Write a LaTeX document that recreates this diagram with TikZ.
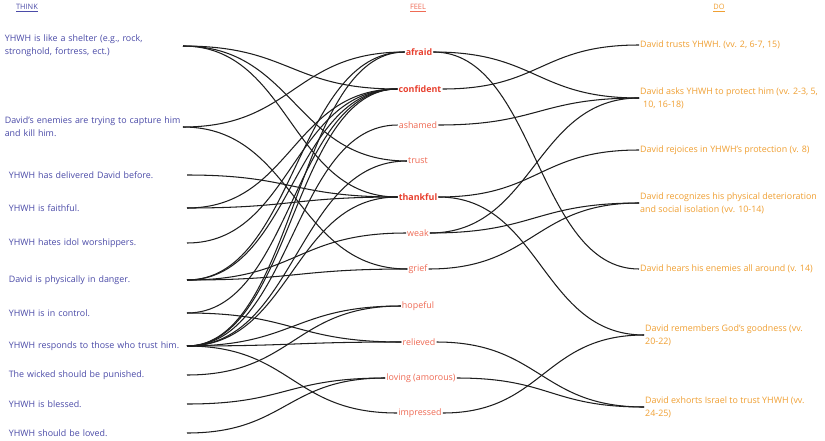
\documentclass[tikz,border=0pt]{standalone}
\usepackage{fontspec}
\setmainfont{Open Sans}
\usetikzlibrary{calc}
\definecolor{thinkc}{HTML}{4B4BA8}
\definecolor{feelb}{HTML}{E8402F}
\definecolor{feeln}{HTML}{EF6B55}
\definecolor{doc}{HTML}{F0A033}
\definecolor{linec}{HTML}{1E1E1E}
\newcommand\fconn[2]{\draw[cline] let \p1=(#1.east), \p2=(#2.west), \n1={(\x2-\x1)*0.5} in (\p1) .. controls +(\n1,0) and +(-\n1,0) .. (\p2);}
\begin{document}
\begin{tikzpicture}[x=1pt,y=-1pt,
  txt/.style={font=\fontsize{8.9}{13}\selectfont, inner sep=1pt},
  thk/.style={txt, text=thinkc, align=left, text width=177pt, anchor=east},
  fl/.style={txt, text=feeln},
  flb/.style={txt, text=feelb, font=\fontsize{8.9}{13}\selectfont\bfseries},
  dob/.style={txt, text=doc, align=left, anchor=west},
  hd/.style={font=\fontsize{7.4}{8}\selectfont, inner sep=1pt},
  cline/.style={draw=linec, line width=1.05pt}]
\useasboundingbox (0,0) rectangle (825,440);
\fill[white] (0,0) rectangle (825,440);
% headings
\node[hd, text=thinkc] (hthink) at (27,8) {\underline{THINK}};
\node[hd, text=feeln] (hfeel) at (418,8) {\underline{FEEL}};
\node[hd, text=doc] (hdo) at (719,8) {\underline{DO}};
% THINK
\node[thk] (l1) at (183,46) {YHWH is like a shelter (e.g., rock,\\stronghold, fortress, ect.)};
\node[thk] (l2) at (183,127) {David's enemies are trying to capture him\\and kill him.};
\node[thk] (l3) at (187,175) {YHWH has delivered David before.};
\node[thk] (l4) at (187,208) {YHWH is faithful.};
\node[thk] (l5) at (187,243) {YHWH hates idol worshippers.};
\node[thk] (l6) at (187,280) {David is physically in danger.};
\node[thk] (l7) at (187,313) {YHWH is in control.};
\node[thk] (l8) at (187,346) {YHWH responds to those who trust him.};
\node[thk] (l9) at (187,375) {The wicked should be punished.};
\node[thk] (l10) at (187,404) {YHWH is blessed.};
\node[thk] (l11) at (187,433) {YHWH should be loved.};
% FEEL
\node[flb] (afraid) at (419,52) {afraid};
\node[flb] (confident) at (420,89) {confident};
\node[fl] (ashamed) at (418,125) {ashamed};
\node[fl] (trust) at (418,161) {trust};
\node[flb] (thankful) at (418,197) {thankful};
\node[fl] (weak) at (418,233) {weak};
\node[fl] (grief) at (418,269) {grief};
\node[fl] (hopeful) at (418,306) {hopeful};
\node[fl] (relieved) at (419,342) {relieved};
\node[fl] (loving) at (421,378) {loving (amorous)};
\node[fl] (impressed) at (420,413) {impressed};
% DO
\node[dob] (r1) at (639,45) {David trusts YHWH. (vv. 2, 6-7, 15)};
\node[dob] (r2) at (639,98) {David asks YHWH to protect him (vv. 2-3, 5,\\\hspace*{3pt}10, 16-18)};
\node[dob] (r3) at (639,150) {David rejoices in YHWH's protection (v. 8)};
\node[dob] (r4) at (639,203) {David recognizes his physical deterioration\\and social isolation (vv. 10-14)};
\node[dob] (r5) at (639,269) {David hears his enemies all around (v. 14)};
\node[dob] (r6) at (644,335) {David remembers God's goodness (vv.\\20-22)};
\node[dob] (r7) at (644,407) {David exhorts Israel to trust YHWH (vv.\\24-25)};
% THINK -> FEEL
\fconn{l1}{confident}
\fconn{l1}{trust}
\fconn{l1}{thankful}
\fconn{l2}{afraid}
\fconn{l2}{grief}
\fconn{l3}{thankful}
\fconn{l4}{thankful}
\fconn{l4}{confident}
\fconn{l5}{confident}
\fconn{l6}{afraid}
\fconn{l6}{confident}
\fconn{l6}{weak}
\fconn{l6}{grief}
\fconn{l7}{confident}
\fconn{l7}{relieved}
\fconn{l8}{afraid}
\fconn{l8}{confident}
\fconn{l8}{ashamed}
\fconn{l8}{trust}
\fconn{l8}{thankful}
\fconn{l8}{hopeful}
\fconn{l8}{relieved}
\fconn{l8}{impressed}
\fconn{l9}{hopeful}
\fconn{l10}{loving}
\fconn{l11}{loving}
% FEEL -> DO
\fconn{afraid}{r2}
\fconn{afraid}{r5}
\fconn{confident}{r1}
\fconn{ashamed}{r2}
\fconn{thankful}{r3}
\fconn{thankful}{r6}
\fconn{weak}{r2}
\fconn{weak}{r4}
\fconn{grief}{r4}
\fconn{relieved}{r7}
\fconn{loving}{r7}
\fconn{impressed}{r6}
\end{tikzpicture}
\end{document}
